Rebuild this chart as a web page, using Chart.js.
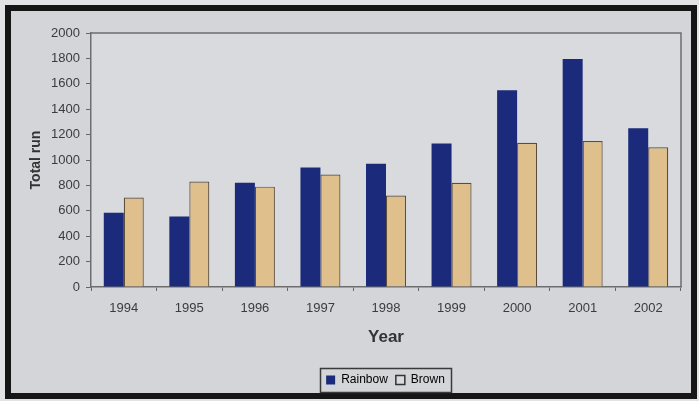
<!DOCTYPE html>
<html>
<head>
<meta charset="utf-8">
<script src="https://cdn.jsdelivr.net/npm/chart.js@4.4.1/dist/chart.umd.min.js"></script>
<style>
  html, body { margin: 0; padding: 0; background: #e2e3e5; }
  #wrap { position: absolute; left: 0; top: 0; width: 699px; height: 401px; }
  #frame { position: absolute; left: 5px; top: 5px; width: 680px; height: 382px;
           border: 6px solid #161616; background: #d3d5d9; }
  canvas { position: absolute; left: 0; top: 0; }
</style>
</head>
<body>
<div id="wrap">
  <div id="frame"></div>
  <canvas id="c" width="699" height="401"></canvas>
</div>
<script>
const years = ['1994','1995','1996','1997','1998','1999','2000','2001','2002'];
const rainbow = [585, 555, 820, 940, 970, 1130, 1550, 1795, 1250];
const brown = [705, 830, 790, 885, 720, 820, 1135, 1150, 1100];
const yTicks = [0, 200, 400, 600, 800, 1000, 1200, 1400, 1600, 1800, 2000];

const LEGEND_SHIFT = 39;

const frameBox = {
  id: 'frameBox',
  afterLayout(chart) {
    const lg = chart.legend;
    if (lg) {
      lg.left += LEGEND_SHIFT; lg.right += LEGEND_SHIFT;
      (lg.legendHitBoxes || []).forEach(h => { h.left += LEGEND_SHIFT; });
    }
  },
  beforeDraw(chart) {
    const {ctx, chartArea: a} = chart;
    ctx.save();
    ctx.fillStyle = '#d8dadd';
    ctx.fillRect(a.left, a.top, a.right - a.left, a.bottom - a.top);
    ctx.restore();
  },
  afterDraw(chart) {
    const {ctx, chartArea: a} = chart;
    ctx.save();
    ctx.strokeStyle = '#6e6e6e';
    ctx.lineWidth = 1.5;
    ctx.beginPath();
    ctx.moveTo(a.left, a.top);
    ctx.lineTo(a.right, a.top);
    ctx.lineTo(a.right, a.bottom);
    ctx.stroke();
    const lg = chart.legend;
    if (lg && lg.legendHitBoxes && lg.legendHitBoxes.length) {
      const hb = lg.legendHitBoxes;
      let x0 = Math.min(...hb.map(h => h.left)), x1 = Math.max(...hb.map(h => h.left + h.width));
      let y0 = Math.min(...hb.map(h => h.top)), y1 = Math.max(...hb.map(h => h.top + h.height));
      ctx.strokeStyle = '#3a3a3a';
      ctx.lineWidth = 1.5;
      ctx.strokeRect(Math.round(x0 - 6) + 0.5, Math.round(y0 - 6) + 0.5, Math.round(x1 - x0 + 12), Math.round(y1 - y0 + 12));
    }
    ctx.restore();
  }
};

new Chart(document.getElementById('c'), {
  type: 'bar',
  data: {
    labels: years,
    datasets: [
      { label: 'Rainbow', data: rainbow, backgroundColor: '#1b2a7a', borderColor: '#1b2a7a', borderWidth: 0 },
      { label: 'Brown', data: brown, backgroundColor: '#dfc08c', borderColor: '#5b4c3c', borderWidth: 1.2 }
    ]
  },
  options: {
    responsive: false,
    animation: false,
    devicePixelRatio: 1,
    layout: { padding: { left: 12, right: 18, top: 33, bottom: 5 } },
    datasets: { bar: { categoryPercentage: 0.61, barPercentage: 1.0 } },
    plugins: {
      tooltip: { enabled: false },
      legend: {
        position: 'bottom',
        labels: {
          font: { family: 'Liberation Sans', size: 12 },
          color: '#222',
          boxWidth: 9, boxHeight: 9, padding: 8,
          generateLabels(chart) {
            return chart.data.datasets.map((ds, i) => ({
              text: ds.label,
              fillStyle: i === 0 ? '#1b2a7a' : '#d9dbde',
              strokeStyle: i === 0 ? '#1b2a7a' : '#333',
              lineWidth: i === 0 ? 0 : 1.5,
              datasetIndex: i,
              hidden: false
            }));
          }
        }
      }
    },
    scales: {
      x: {
        afterFit(s) { s.height = 79; },
        grid: { display: true, drawOnChartArea: false, drawTicks: true, tickLength: 4, color: '#666', offset: true },
        border: { display: true, color: '#6e6e6e', width: 1.5 },
        ticks: { font: { family: 'Liberation Sans', size: 13 }, color: '#3c3c3c', padding: 10, maxRotation: 0 },
        title: { display: true, text: 'Year', font: { family: 'Liberation Sans', size: 17, weight: 'bold' }, color: '#333', padding: { top: 4, bottom: 18 } }
      },
      y: {
        min: 0, max: 2000,
        afterFit(s) { s.width = 79; },
        afterBuildTicks(s) { s.ticks = yTicks.map(v => ({ value: v })); },
        grid: { display: true, drawOnChartArea: false, drawTicks: true, tickLength: 5, color: '#666' },
        border: { display: true, color: '#6e6e6e', width: 1.5 },
        ticks: { font: { family: 'Liberation Sans', size: 13 }, color: '#3c3c3c', padding: 6, callback: v => String(v) },
        title: { display: true, text: 'Total run', font: { family: 'Liberation Sans', size: 14, weight: 'bold' }, color: '#333', padding: { top: 16, bottom: 4 } }
      }
    }
  },
  plugins: [frameBox]
});
</script>
</body>
</html>
